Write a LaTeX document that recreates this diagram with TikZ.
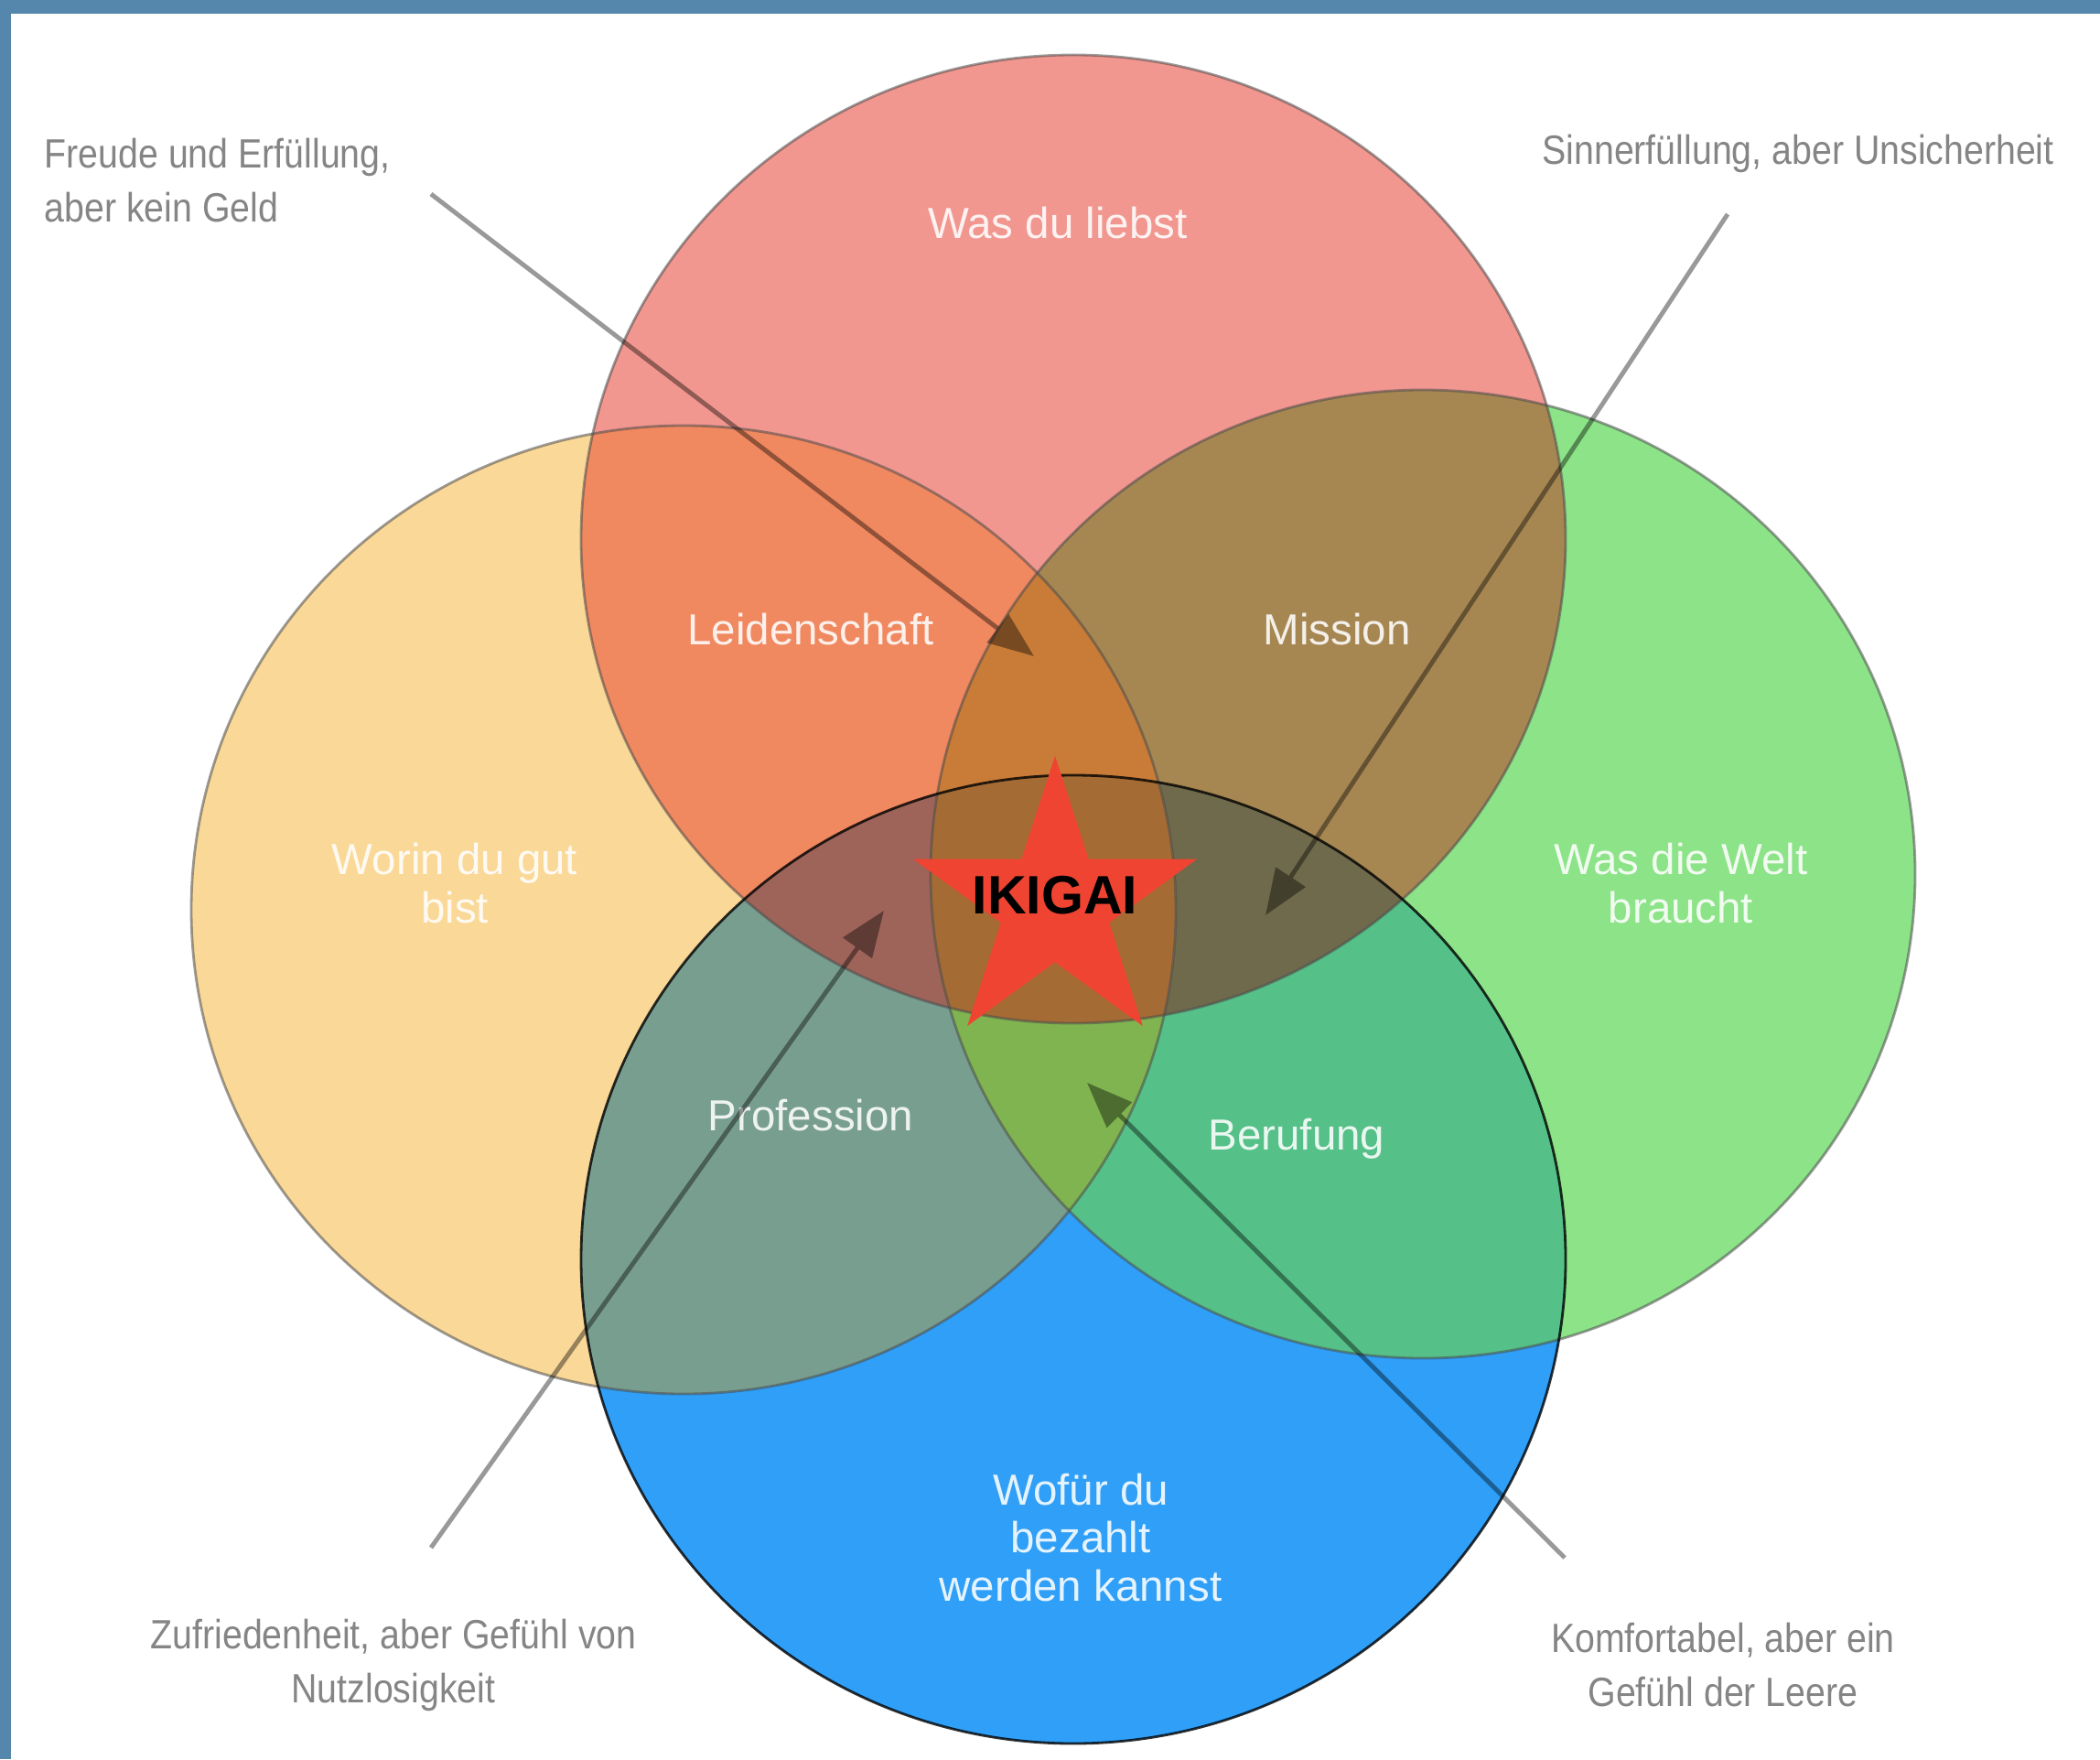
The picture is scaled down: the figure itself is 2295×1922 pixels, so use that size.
\documentclass[tikz,border=0pt]{standalone}
\usepackage{fontspec}
\setmainfont{Liberation Sans}
\newfontfamily\notefont[FakeStretch=0.88]{Liberation Sans}
\usetikzlibrary{arrows.meta,shapes.geometric}

\definecolor{framecol}{HTML}{5587AC}
\definecolor{notegray}{HTML}{858585}
\definecolor{starred}{HTML}{EE4431}
\definecolor{lovecol}{HTML}{F1978F}
\definecolor{skillcol}{HTML}{FAD898}
\definecolor{worldcol}{HTML}{8CE388}
\definecolor{paidcol}{HTML}{2F9FF7}
\definecolor{passioncol}{HTML}{F08860}
\definecolor{missioncol}{HTML}{A68752}
\definecolor{professioncol}{HTML}{789E90}
\definecolor{vocationcol}{HTML}{55C088}
\definecolor{lswcol}{HTML}{C87C38}
\definecolor{lspcol}{HTML}{9E6459}
\definecolor{lwpcol}{HTML}{6F6A4C}
\definecolor{swpcol}{HTML}{80B450}
\definecolor{allcol}{HTML}{A56B35}

\begin{document}
\begin{tikzpicture}[x=0.01cm, y=-0.01cm,
  vennsize/.style={x radius=538, y radius=529},
  rim/.style={draw=black!70, draw opacity=0.55, line width=0.8pt},
  circlabel/.style={text=white, text opacity=0.88, font=\fontsize{13.5}{15}\selectfont, align=center, inner sep=0pt},
  notelabel/.style={text=notegray, font=\notefont\fontsize{12.7}{16.8}\selectfont, inner sep=0pt},
  pointer/.style={draw=black, line width=1.4pt, -{Triangle[length=5mm, width=3.8mm]}},
  ikistar/.style={star, star points=5, star point ratio=2.618, minimum size=3.26cm, inner sep=0pt, fill=starred}
]
\useasboundingbox (0,0) rectangle (2295,1922);
\fill[white] (0,0) rectangle (2295,1922);
\fill[framecol] (0,0) rectangle (2295,15);
\fill[framecol] (0,0) rectangle (12,1922);

% circle centres
\coordinate (love) at (1173,589);
\coordinate (skill) at (747,994);
\coordinate (world) at (1555,955);
\coordinate (paid) at (1173,1376);

% single circles
\fill[skillcol] (skill) ellipse [vennsize];
\fill[worldcol] (world) ellipse [vennsize];
\fill[paidcol] (paid) ellipse [vennsize];
\fill[lovecol] (love) ellipse [vennsize];
% overlaps of two
\begin{scope}
  \clip (love) ellipse [vennsize];
  \fill[passioncol] (skill) ellipse [vennsize];
\end{scope}
\begin{scope}
  \clip (love) ellipse [vennsize];
  \fill[missioncol] (world) ellipse [vennsize];
\end{scope}
\begin{scope}
  \clip (skill) ellipse [vennsize];
  \fill[professioncol] (paid) ellipse [vennsize];
\end{scope}
\begin{scope}
  \clip (world) ellipse [vennsize];
  \fill[vocationcol] (paid) ellipse [vennsize];
\end{scope}
% overlaps of three
\begin{scope}
  \clip (love) ellipse [vennsize];
  \clip (skill) ellipse [vennsize];
  \fill[lswcol] (world) ellipse [vennsize];
\end{scope}
\begin{scope}
  \clip (love) ellipse [vennsize];
  \clip (skill) ellipse [vennsize];
  \fill[lspcol] (paid) ellipse [vennsize];
\end{scope}
\begin{scope}
  \clip (love) ellipse [vennsize];
  \clip (world) ellipse [vennsize];
  \fill[lwpcol] (paid) ellipse [vennsize];
\end{scope}
\begin{scope}
  \clip (skill) ellipse [vennsize];
  \clip (world) ellipse [vennsize];
  \fill[swpcol] (paid) ellipse [vennsize];
\end{scope}
% all four
\begin{scope}
  \clip (love) ellipse [vennsize];
  \clip (skill) ellipse [vennsize];
  \clip (world) ellipse [vennsize];
  \fill[allcol] (paid) ellipse [vennsize];
\end{scope}
% rims
\draw[rim] (skill) ellipse [vennsize];
\draw[rim] (world) ellipse [vennsize];
\draw[rim] (love) ellipse [vennsize];
\draw[rim, draw=black, draw opacity=0.8] (paid) ellipse [vennsize];

% centre
\node[ikistar] (star) at (1153,989) {};
\node[font=\bfseries\fontsize{16.8}{18}\selectfont, inner sep=0pt] (ikigai) at (1153,978) {IKIGAI};

% circle labels
\node[circlabel] (lovetxt) at (1156,244) {Was du liebst};
\node[circlabel] (skilltxt) at (497,965) {Worin du gut\\bist};
\node[circlabel] (worldtxt) at (1837,965) {Was die Welt\\braucht};
\node[circlabel] (paidtxt) at (1181,1680) {Wofür du\\bezahlt\\werden kannst};
\node[circlabel] (passion) at (886,688) {Leidenschaft};
\node[circlabel] (mission) at (1461,688) {Mission};
\node[circlabel] (profession) at (886,1219) {Profession};
\node[circlabel] (vocation) at (1417,1244) {Berufung};

% side notes
\node[notelabel, align=left, anchor=west] (joy) at (48,197) {Freude und Erfüllung,\\aber kein Geld};
\node[notelabel] (meaning) at (1965,168) {Sinnerfüllung, aber Unsicherheit};
\node[notelabel, align=center] (content) at (430,1819) {Zufriedenheit, aber Gefühl von\\Nutzlosigkeit};
\node[notelabel, align=center] (comfort) at (1883,1819) {Komfortabel, aber ein\\Gefühl der Leere};

% pointers
\coordinate (joytail) at (471,212);
\coordinate (joytip) at (1130,717);
\coordinate (meaningtail) at (1888,234);
\coordinate (meaningtip) at (1383,1000);
\coordinate (contenttail) at (471,1691);
\coordinate (contenttip) at (966,995);
\coordinate (comforttail) at (1710,1702);
\coordinate (comforttip) at (1188,1183);
\begin{scope}[transparency group, opacity=0.4]
\draw[pointer] (joytail) -- (joytip);
\draw[pointer] (meaningtail) -- (meaningtip);
\draw[pointer] (contenttail) -- (contenttip);
\draw[pointer] (comforttail) -- (comforttip);
\end{scope}
\end{tikzpicture}
\end{document}
